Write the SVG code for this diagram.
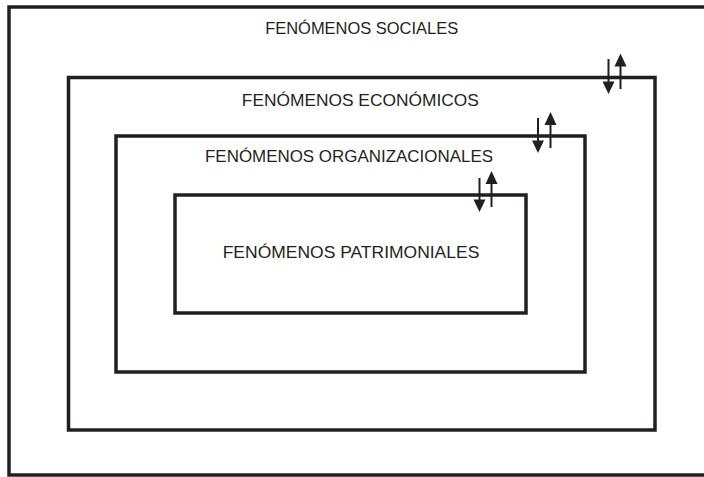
<svg xmlns="http://www.w3.org/2000/svg" width="704" height="477" viewBox="0 0 704 477">
<style>
.box{fill:none;stroke:#231f20;stroke-width:3.5}
.lbl{font-family:"Liberation Sans",Arial,sans-serif;font-size:16.5px;fill:#231f20;text-anchor:middle}
.ar{stroke:#231f20;stroke-width:2;fill:none}
.hd{fill:#231f20}
</style>
<rect width="704" height="477" fill="#fff"/>
<g id="sociales"><rect class="box" x="9" y="7" width="700" height="468"/><text class="lbl" x="361.7" y="34.3" textLength="193" lengthAdjust="spacingAndGlyphs">FENÓMENOS SOCIALES</text></g>
<g id="economicos"><rect class="box" x="68.5" y="77.5" width="586.5" height="352.5"/><text class="lbl" x="360.3" y="105.7" textLength="237" lengthAdjust="spacingAndGlyphs">FENÓMENOS ECONÓMICOS</text></g>
<g id="organizacionales"><rect class="box" x="116" y="136" width="469" height="236"/><text class="lbl" x="349" y="162.3" textLength="288" lengthAdjust="spacingAndGlyphs">FENÓMENOS ORGANIZACIONALES</text></g>
<g id="patrimoniales"><rect class="box" x="175" y="195" width="351" height="118"/><text class="lbl" x="351" y="258.3" textLength="256.6" lengthAdjust="spacingAndGlyphs">FENÓMENOS PATRIMONIALES</text></g>
<g id="connectors">
<line class="ar" x1="608.5" y1="59" x2="608.5" y2="83"/><polygon class="hd" points="602.5,81.5 614.5,81.5 608.5,94"/>
<line class="ar" x1="620.5" y1="89" x2="620.5" y2="65"/><polygon class="hd" points="614.5,66.5 626.5,66.5 620.5,53.5"/>
<line class="ar" x1="538" y1="118" x2="538" y2="142"/><polygon class="hd" points="532,140.5 544,140.5 538,153"/>
<line class="ar" x1="550.5" y1="148" x2="550.5" y2="124"/><polygon class="hd" points="544.5,125 556.5,125 550.5,112"/>
<line class="ar" x1="479.5" y1="178" x2="479.5" y2="201"/><polygon class="hd" points="473.5,199.5 485.5,199.5 479.5,212"/>
<line class="ar" x1="491.5" y1="207" x2="491.5" y2="183"/><polygon class="hd" points="485.5,184 497.5,184 491.5,171"/>
</g>
</svg>
